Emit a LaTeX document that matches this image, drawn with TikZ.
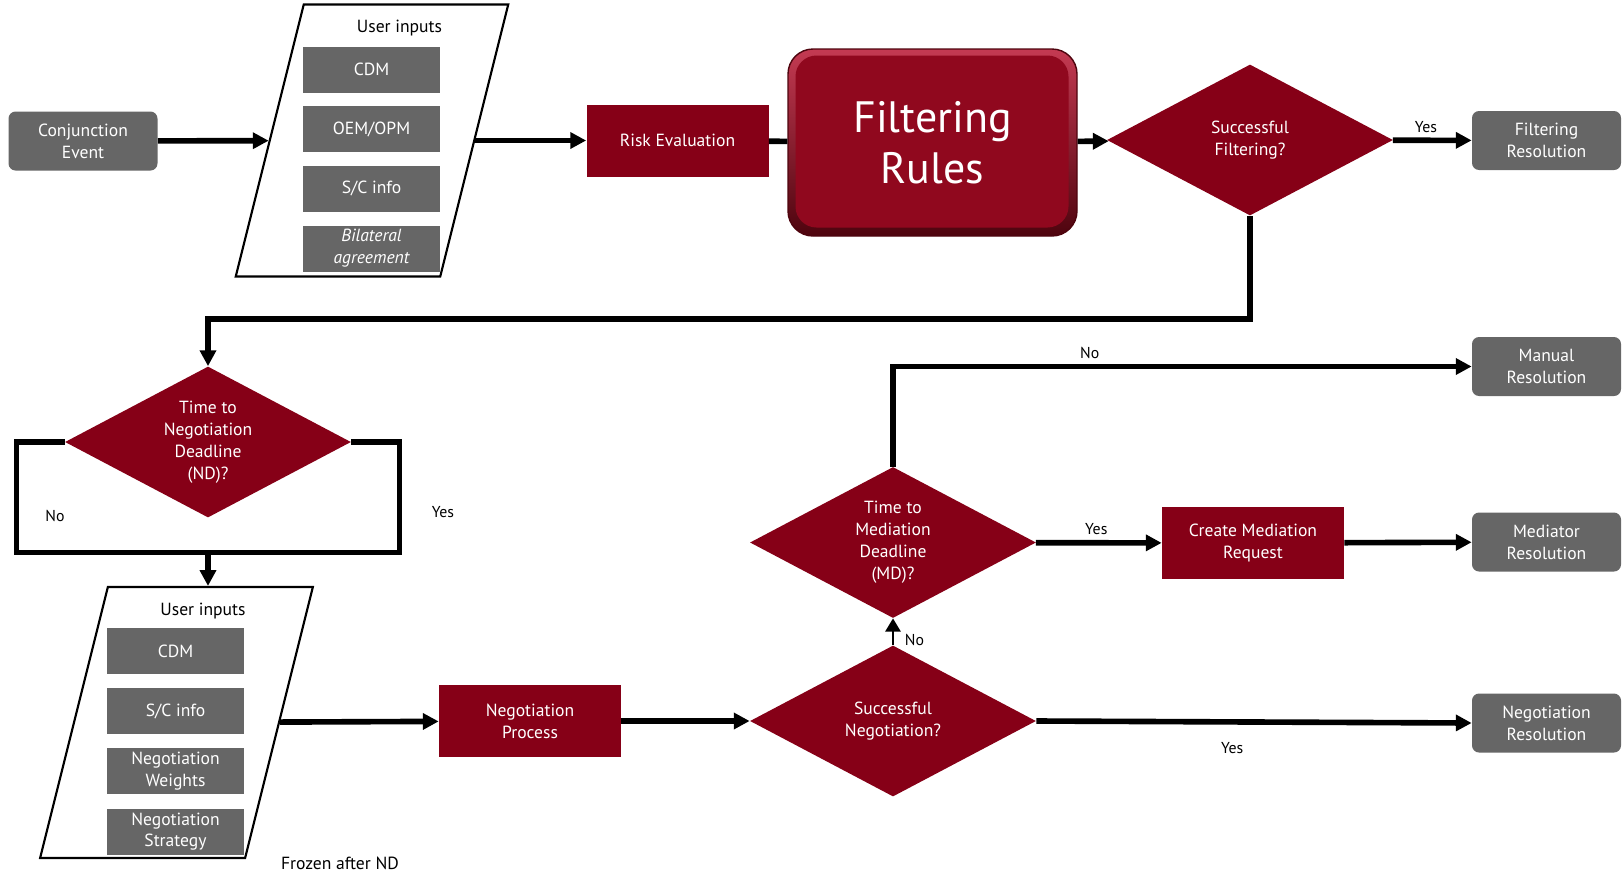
\documentclass[tikz,border=0pt]{standalone}
\usepackage{fontspec}
\setmainfont{PT Sans}
\usepackage{tikz}
\usetikzlibrary{arrows.meta,positioning,shapes.geometric}
\definecolor{deepRed}{RGB}{134,0,23}
\definecolor{ruleRed}{RGB}{144,8,30}
\definecolor{ruleLight}{RGB}{196,58,82}
\definecolor{ruleDark}{RGB}{78,4,14}
\definecolor{stoneGrey}{RGB}{102,102,102}
\newcommand\boxtxt{\fontsize{10}{12.5}\selectfont}
\tikzset{
  endbox/.style={fill=stoneGrey, rounded corners=4pt, text=white, align=center, minimum width=2.98cm, minimum height=1.18cm, font=\boxtxt},
  procbox/.style={fill=deepRed, text=white, align=center, minimum width=3.64cm, minimum height=1.44cm, font=\boxtxt},
  decision/.style={diamond, aspect=1.9, inner sep=0pt, fill=deepRed, text=white, align=center, minimum width=5.72cm, minimum height=3.02cm, font=\boxtxt},
  inbox/.style={fill=stoneGrey, text=white, align=center, inner sep=1pt, minimum width=2.74cm, minimum height=0.92cm, font=\boxtxt},
  inframe/.style={draw, line width=1.2pt, xslant=0.25, transform shape, inner sep=0pt, minimum width=4.09cm, minimum height=5.44cm},
  rulebox/.style={draw=ruleDark, line width=0.8pt, rounded corners=0.5cm, top color=ruleLight, bottom color=ruleDark, text=white, align=center, minimum width=5.78cm, minimum height=3.74cm, font=\fontsize{25}{29}\selectfont,
    path picture={\fill[ruleRed, rounded corners=0.42cm] ([shift={(0.15,-0.13)}]path picture bounding box.north west) rectangle ([shift={(-0.17,0.17)}]path picture bounding box.south east);}},
  lbl/.style={font=\fontsize{9}{11}\selectfont, inner sep=1pt},
  flow/.style={-{Triangle[length=9pt,width=9pt]}, line width=3.2pt},
  link/.style={line width=3.2pt},
  thinflow/.style={-{Triangle[length=7.5pt,width=8.5pt]}, line width=1.6pt}
}
\begin{document}
\begin{tikzpicture}
  \useasboundingbox (0,0) rectangle (32.46,-17.48);
  % filtering stage
  \node[endbox] (conj) at (1.66,-2.82) {Conjunction\\Event};
  \node[inframe] (inp1) at (7.44,-2.81) {};
  \node[font=\boxtxt] (titleA) at (7.99,-0.56) {User inputs};
  \node[inbox] (cdmA) at (7.43,-1.39) {CDM};
  \node[inbox, below=0.26cm of cdmA] (oemA) {OEM/OPM};
  \node[inbox, below=0.26cm of oemA] (scA) {S/C info};
  \node[inbox, below=0.26cm of scA, font=\boxtxt\itshape] (bilA) {Bilateral\\agreement};
  \node[procbox] (risk) at (13.55,-2.81) {Risk Evaluation};
  \node[rulebox] (filt) at (18.65,-2.85) {Filtering\\Rules};
  \node[decision] (succF) at (25,-2.8) {Successful\\Filtering?};
  \node[endbox] (filtRes) at (30.93,-2.81) {Filtering\\Resolution};
  % negotiation stage
  \node[decision] (nd) at (4.16,-8.84) {Time to\\Negotiation\\Deadline\\(ND)?};
  \coordinate (ndJoin) at (4.16,-11.05);
  \node[lbl] (ndNo) at (1.1,-10.32) {No};
  \node[lbl] (ndYes) at (8.86,-10.24) {Yes};
  \node[inframe, minimum width=4.1cm, minimum height=5.42cm] (inp2) at (3.53,-14.45) {};
  \node[font=\boxtxt] (titleB) at (4.06,-12.22) {User inputs};
  \node[inbox] (cdmB) at (3.51,-13.02) {CDM};
  \node[inbox, below=0.27cm of cdmB] (scB) {S/C info};
  \node[inbox, below=0.27cm of scB] (nwB) {Negotiation\\Weights};
  \node[inbox, below=0.27cm of nwB] (nsB) {Negotiation\\Strategy};
  \node[font=\boxtxt] (frozen) at (6.8,-17.26) {Frozen after ND};
  \node[procbox] (negP) at (10.6,-14.42) {Negotiation\\Process};
  \node[decision] (succN) at (17.86,-14.42) {Successful\\Negotiation?};
  \node[endbox] (negRes) at (30.93,-14.46) {Negotiation\\Resolution};
  % mediation stage
  \node[decision] (md) at (17.86,-10.85) {Time to\\Mediation\\Deadline\\(MD)?};
  \node[procbox] (cmr) at (25.06,-10.86) {Create Mediation\\Request};
  \node[endbox] (manRes) at (30.93,-7.33) {Manual\\Resolution};
  \node[endbox] (medRes) at (30.93,-10.84) {Mediator\\Resolution};

  \draw[flow] (conj) -- (inp1);
  \draw[flow] (inp1) -- (risk);
  \draw[link] (risk) -- (filt);
  \draw[flow] (filt) -- (succF);
  \draw[flow] (succF) -- node[lbl, above=2pt, pos=.42] {Yes} (filtRes);
  \draw[flow] (succF.south) -- ++(0,-2.06) -| (nd.north);
  \draw[link] (nd.west) -- ++(-0.96,0) |- (ndJoin);
  \draw[link] (nd.east) -- ++(0.96,0) |- (ndJoin);
  \draw[flow] (ndJoin) -- (ndJoin |- inp2.north);
  \draw[flow] (inp2) -- (negP);
  \draw[flow] (negP) -- (succN);
  \draw[thinflow] (succN) -- node[lbl, right=5pt, pos=.2] {No} (md);
  \draw[flow] (succN.east) -- node[lbl, below=9pt, pos=.45] {Yes} (negRes.west);
  \draw[flow] (md.north) |- node[lbl, above=2pt, pos=.67] {No} (manRes.west);
  \draw[flow] (md) -- node[lbl, above=2pt, pos=.48] {Yes} (cmr);
  \draw[flow] (cmr) -- (medRes);
\end{tikzpicture}
\end{document}
